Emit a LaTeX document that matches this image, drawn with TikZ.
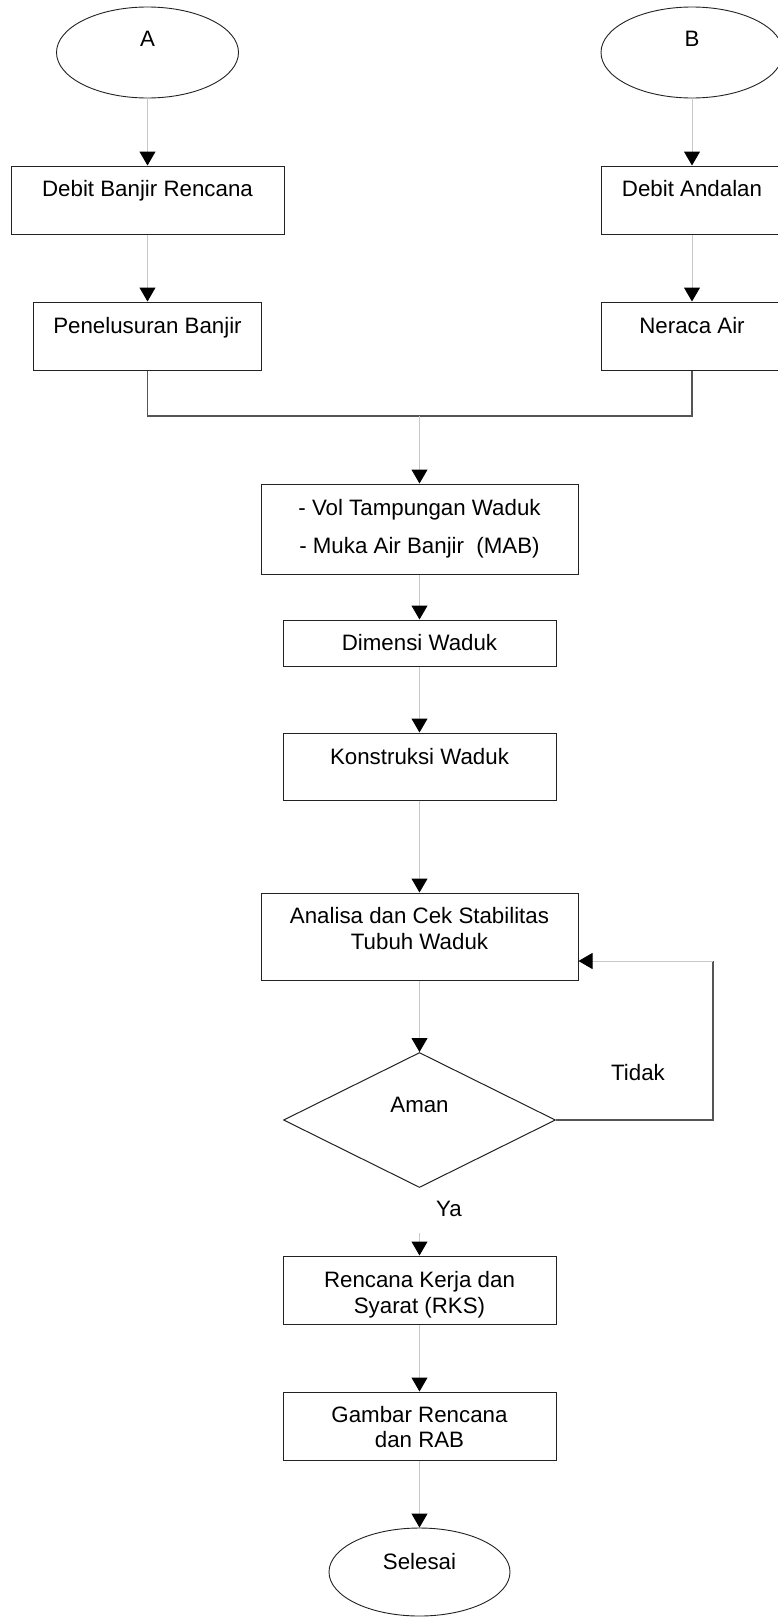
\documentclass[tikz,border=0pt]{standalone}
\usepackage{fontspec}
\setmainfont{Liberation Sans}
\usetikzlibrary{shapes.geometric,arrows.meta}
\definecolor{connc}{HTML}{C8C8C8}
\definecolor{edgec}{HTML}{222222}
\definecolor{joinc}{HTML}{555555}
\tikzset{
  boxnode/.style={draw=edgec,line width=1pt,rectangle,inner sep=0pt},
  ovalnode/.style={draw=edgec,line width=0.9pt,ellipse,inner sep=0pt},
  decnode/.style={draw=edgec,line width=1pt,diamond,inner sep=0pt},
  txt/.style={anchor=base,inner sep=0pt,font=\fontsize{22.3}{26}\selectfont},
  conn/.style={draw=connc,line width=1pt,-{Triangle[length=14pt,width=16pt,color=black,fill=black]}},
  joinline/.style={draw=joinc,line width=1.3pt},
}
\begin{document}
\begin{tikzpicture}[x=1pt,y=-1pt]
\useasboundingbox (0,0) rectangle (778,1617);
\clip (0,0) rectangle (778,1617);
\fill[white] (0,0) rectangle (778,1617);
% start ovals
\node[ovalnode,minimum width=182pt,minimum height=91pt] (A) at (147.5,52.5) {};
\node[txt] (At) at (147.5,46.5) {A};
\node[ovalnode,minimum width=182pt,minimum height=91pt] (B) at (692,52.5) {};
\node[txt] (Bt) at (692,46.5) {B};
% left column
\node[boxnode,minimum width=273pt,minimum height=68pt] (dbr) at (147.5,200) {};
\node[txt] (dbrt) at (147.5,196) {Debit Banjir Rencana};
\node[boxnode,minimum width=228pt,minimum height=68pt] (pen) at (147.5,336) {};
\node[txt] (pent) at (147.5,333) {Penelusuran Banjir};
% right column
\node[boxnode,minimum width=182pt,minimum height=68pt] (dan) at (692,200) {};
\node[txt] (dant) at (692,196) {Debit Andalan};
\node[boxnode,minimum width=182pt,minimum height=68pt] (ner) at (692,336) {};
\node[txt] (nert) at (692,333) {Neraca Air};
% middle column
\node[boxnode,minimum width=317pt,minimum height=90pt] (vol) at (419.5,529) {};
\node[txt] (volt1) at (419.5,515) {- Vol Tampungan Waduk};
\node[txt] (volt2) at (419.5,553) {- Muka Air Banjir\ \ (MAB)};
\node[boxnode,minimum width=273pt,minimum height=46pt] (dim) at (419.5,643) {};
\node[txt] (dimt) at (419.5,650) {Dimensi Waduk};
\node[boxnode,minimum width=273pt,minimum height=67pt] (kon) at (419.5,766.5) {};
\node[txt] (kont) at (419.5,764) {Konstruksi Waduk};
\node[boxnode,minimum width=317pt,minimum height=87pt] (ana) at (419.5,936.5) {};
\node[txt] (anat1) at (419.5,923) {Analisa dan Cek Stabilitas};
\node[txt] (anat2) at (419.5,949) {Tubuh Waduk};
\node[decnode,minimum width=272pt,minimum height=135pt] (dia) at (419.5,1120) {};
\node[txt] (diat) at (419.5,1112) {Aman};
\node[txt] (tidak) at (638,1080) {Tidak};
\node[txt] (ya) at (449,1216) {Ya};
\node[boxnode,minimum width=273pt,minimum height=68pt] (rks) at (419.5,1290) {};
\node[txt] (rkst1) at (419.5,1287) {Rencana Kerja dan};
\node[txt] (rkst2) at (419.5,1313) {Syarat (RKS)};
\node[boxnode,minimum width=273pt,minimum height=68pt] (gam) at (419.5,1426) {};
\node[txt] (gamt1) at (419.5,1422) {Gambar Rencana};
\node[txt] (gamt2) at (419.5,1447) {dan RAB};
\node[ovalnode,minimum width=181pt,minimum height=88pt] (sel) at (419.5,1572) {};
\node[txt] (selt) at (419.5,1569) {Selesai};
% coordinates
\coordinate (jl) at (147.5,416);
\coordinate (jr) at (692,416);
\coordinate (jm) at (419.5,416);
\coordinate (fb1) at (713,1120);
\coordinate (fb2) at (713,961);
\coordinate (yas) at (419.5,1233);
% connectors
\draw[conn] (A.south) -- (dbr.north);
\draw[conn] (dbr.south) -- (pen.north);
\draw[conn] (B.south) -- (dan.north);
\draw[conn] (dan.south) -- (ner.north);
\draw[joinline] (pen.south) -- (jl) -- (jr) -- (ner.south);
\draw[conn] (jm) -- (vol.north);
\draw[conn] (vol.south) -- (dim.north);
\draw[conn] (dim.south) -- (kon.north);
\draw[conn] (kon.south) -- (ana.north);
\draw[conn] (ana.south) -- (dia.north);
\draw[joinline] (dia.east) -- (fb1) -- (fb2);
\draw[conn] (fb2) -- (ana.east |- fb2);
\draw[conn] (yas) -- (rks.north);
\draw[conn] (rks.south) -- (gam.north);
\draw[conn] (gam.south) -- (sel.north);
\end{tikzpicture}
\end{document}
